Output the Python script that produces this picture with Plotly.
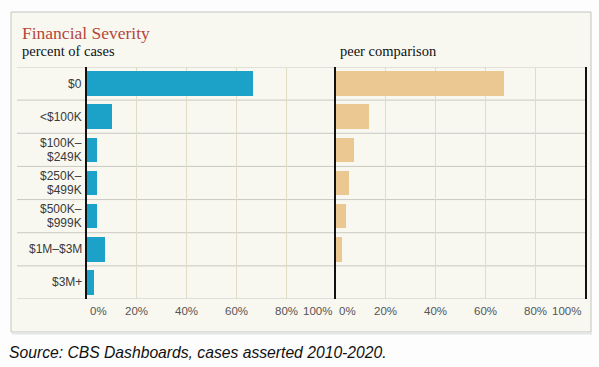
import plotly.graph_objects as go

W, H = 599, 367

categories = ["$0", "<$100K", "$100K–<br>$249K", "$250K–<br>$499K",
              "$500K–<br>$999K", "$1M–$3M", "$3M+"]
percent_of_cases = [66.5, 10.0, 4.0, 4.0, 4.0, 7.2, 2.7]
peer_comparison = [67.5, 13.3, 7.3, 5.3, 4.0, 2.5, 0.0]
tick_values = [0, 20, 40, 60, 80, 100]
tick_labels = ["0%", "20%", "40%", "60%", "80%", "100%"]

BLUE = "#1ca2c9"
TAN = "#ebc792"
BG = "#f8f8f1"
VGRID = "#e0dcc6"
HGRID = "#c9c9c1"

def px(x):
    return x / W

def py(y):
    return 1 - y / H

pos = list(range(len(categories)))

fig = go.Figure()
fig.add_trace(go.Bar(x=percent_of_cases, y=pos, orientation="h",
                     marker=dict(color=BLUE, line=dict(width=0)),
                     width=0.74, xaxis="x", yaxis="y", hoverinfo="x+y"))
fig.add_trace(go.Bar(x=peer_comparison, y=pos, orientation="h",
                     marker=dict(color=TAN, line=dict(width=0)),
                     width=0.74, xaxis="x2", yaxis="y2", hoverinfo="x+y"))

ydom = [py(299), py(67)]
xcommon = dict(range=[0, 100], tickvals=tick_values, showticklabels=False,
               showgrid=True, gridcolor=VGRID, gridwidth=1, zeroline=False,
               showline=False, ticks="", fixedrange=True)
ycommon = dict(range=[len(categories) - 0.5, -0.5], showticklabels=False,
               showgrid=False, zeroline=False, ticks="", showline=True,
               linecolor="#111111", linewidth=1.5, fixedrange=True)

fig.update_layout(
    width=W, height=H,
    margin=dict(l=0, r=0, t=0, b=0),
    paper_bgcolor="#fdfdfd",
    plot_bgcolor="rgba(0,0,0,0)",
    showlegend=False,
    bargap=0,
    xaxis=dict(domain=[px(87), px(336)], anchor="y", **xcommon),
    xaxis2=dict(domain=[px(336), px(585)], anchor="y2", **xcommon),
    yaxis=dict(domain=ydom, anchor="x", **ycommon),
    yaxis2=dict(domain=ydom, anchor="x2", mirror=True, **ycommon),
)

shapes = []
# outer panel box
shapes.append(dict(type="rect", xref="paper", yref="paper",
                   x0=px(11), x1=px(591), y0=py(332), y1=py(12),
                   fillcolor=BG, line=dict(color="#c4c4c0", width=1),
                   layer="below"))
# shadow under the box
shapes.append(dict(type="line", xref="paper", yref="paper",
                   x0=px(12), x1=px(592), y0=py(333.5), y1=py(333.5),
                   line=dict(color="#e4e6e8", width=2), layer="below"))
# horizontal row separators
for i in range(len(categories) + 1):
    shapes.append(dict(type="line", xref="paper", yref="y",
                       x0=px(17), x1=px(585), y0=i - 0.5, y1=i - 0.5,
                       line=dict(color=HGRID, width=1), layer="below"))
fig.update_layout(shapes=shapes)

ann = []
# titles
ann.append(dict(text="Financial Severity", xref="paper", yref="paper",
                x=px(20), y=py(32.5), xanchor="left", yanchor="middle",
                showarrow=False,
                font=dict(family="Liberation Serif", size=17.5, color="#b5463a")))
ann.append(dict(text="percent of cases", xref="paper", yref="paper",
                x=px(20), y=py(51), xanchor="left", yanchor="middle",
                showarrow=False,
                font=dict(family="Liberation Serif", size=14.5, color="#111111")))
ann.append(dict(text="peer comparison", xref="paper", yref="paper",
                x=px(338), y=py(51), xanchor="left", yanchor="middle",
                showarrow=False,
                font=dict(family="Liberation Serif", size=14.5, color="#111111")))

# category labels
for i, lab in enumerate(categories):
    lines = lab.split("<br>")
    n = len(lines)
    for j, line in enumerate(lines):
        shift = (j - (n - 1) / 2) * -13.5
        ann.append(dict(text=line, xref="paper", yref="y", x=px(84), y=i,
                        xanchor="right", yanchor="middle", yshift=shift,
                        showarrow=False,
                        font=dict(family="Liberation Sans", size=12,
                                  color="#3a3a3a")))

# x tick labels
for xa in ["x", "x2"]:
    for v, t in zip(tick_values, tick_labels):
        if v == tick_values[0]:
            anchor, xs = "left", 1
        elif v == tick_values[-1]:
            anchor, xs = "right", -2
        else:
            anchor, xs = "center", 0
        ann.append(dict(text=t, xref=xa, yref="paper", x=v, y=py(311),
                        xanchor=anchor, yanchor="middle", xshift=xs,
                        showarrow=False,
                        font=dict(family="Liberation Sans", size=11.5,
                                  color="#555555")))

ann.append(dict(text="<i>Source: CBS Dashboards, cases asserted 2010-2020.</i>",
                xref="paper", yref="paper", x=px(7), y=py(352),
                xanchor="left", yanchor="middle", showarrow=False,
                font=dict(family="Liberation Sans", size=15.7, color="#111111")))
fig.update_layout(annotations=ann)

fig.write_html("out.html",
               config={"displayModeBar": False},
               post_script="document.body.style.margin='0';"
                           "document.body.style.padding='0';"
                           "document.documentElement.style.overflow='hidden';")
